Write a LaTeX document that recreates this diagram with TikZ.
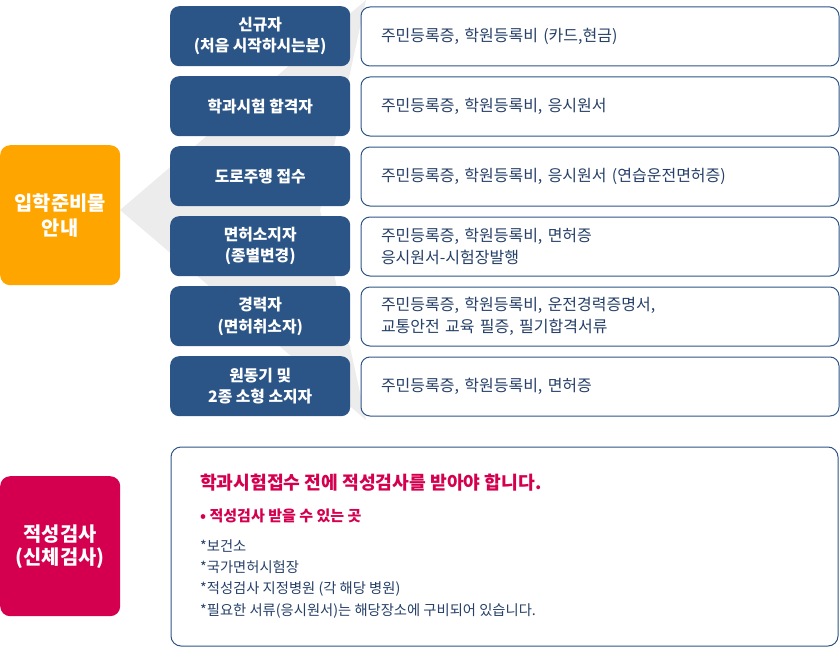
\documentclass[tikz,border=0pt]{standalone}
\usepackage{fontspec}
\setmainfont{Noto Sans CJK KR}
\definecolor{navy}{RGB}{44,85,135}
\definecolor{txtnavy}{RGB}{38,64,104}
\definecolor{orangeb}{RGB}{255,165,0}
\definecolor{crimsonb}{RGB}{212,0,79}
\definecolor{dartgray}{RGB}{236,236,236}
\begin{document}
\begin{tikzpicture}[x=1pt,y=-1pt,
  catbox/.style={fill=navy, rounded corners=9pt, minimum width=180pt, minimum height=60pt,
    inner sep=0pt, anchor=north west, text=white, align=center,
    font=\fontsize{15.8}{21.5}\selectfont\bfseries},
  docbox/.style={draw=navy, line width=1pt, fill=white, rounded corners=9pt,
    minimum height=59pt, text width=438pt, inner xsep=20pt, inner ysep=0pt,
    anchor=north west, align=left, text=txtnavy,
    font=\fontsize{16}{22}\selectfont},
  bigbox/.style={rounded corners=10pt, minimum width=120pt, minimum height=140pt,
    inner sep=0pt, anchor=north west, text=white, align=center},
  notetext/.style={anchor=west, inner sep=0pt, text=txtnavy, font=\fontsize{14.3}{16}\selectfont}
]
\useasboundingbox (0,0) rectangle (840,650);
% gray dart background
\fill[dartgray] (120,210) -- (366,0) -- (320,210) -- (366,420) -- cycle;

% left category boxes
\node[bigbox, fill=orangeb, font=\fontsize{19.8}{25}\selectfont\bfseries] (guide) at (0,145) {입학준비물\\안내};
\node[bigbox, fill=crimsonb, font=\fontsize{19.8}{23}\selectfont\bfseries] (aptitude) at (0,476) {적성검사\\(신체검사)};

% navy boxes
\node[catbox] (c1) at (170,6)   {신규자\\(처음 시작하시는분)};
\node[catbox] (c2) at (170,76)  {학과시험 합격자};
\node[catbox] (c3) at (170,146) {도로주행 접수};
\node[catbox] (c4) at (170,216) {면허소지자\\(종별변경)};
\node[catbox] (c5) at (170,286) {경력자\\(면허취소자)};
\node[catbox] (c6) at (170,356) {원동기 및\\2종 소형 소지자};

% document boxes
\node[docbox] (d1) at (360.5,6.5)   {주민등록증, 학원등록비 (카드,현금)};
\node[docbox] (d2) at (360.5,76.5)  {주민등록증, 학원등록비, 응시원서};
\node[docbox] (d3) at (360.5,146.5) {주민등록증, 학원등록비, 응시원서 (연습운전면허증)};
\node[docbox] (d4) at (360.5,216.5) {주민등록증, 학원등록비, 면허증\\응시원서-시험장발행};
\node[docbox] (d5) at (360.5,286.5) {주민등록증, 학원등록비, 운전경력증명서,\\교통안전 교육 필증, 필기합격서류};
\node[docbox] (d6) at (360.5,356.5) {주민등록증, 학원등록비, 면허증};

% aptitude note box
\node[draw=navy, line width=1pt, fill=white, rounded corners=10pt, minimum width=667pt,
      minimum height=199pt, inner sep=0pt, anchor=north west] (note) at (170.5,446.5) {};
\node[notetext, text=crimsonb, font=\fontsize{18.2}{20}\selectfont\bfseries] (n1) at (200,483)
  {학과시험접수 전에 적성검사를 받아야 합니다.};
\node[notetext, text=crimsonb, font=\fontsize{15}{17}\selectfont\bfseries] (n2) at (200,516)
  {• 적성검사 받을 수 있는 곳};
\node[notetext] (n3) at (200,546) {*보건소};
\node[notetext] (n4) at (200,567.5) {*국가면허시험장};
\node[notetext] (n5) at (200,589) {*적성검사 지정병원 (각 해당 병원)};
\node[notetext] (n6) at (200,610.5) {*필요한 서류(응시원서)는 해당장소에 구비되어 있습니다.};
\end{tikzpicture}
\end{document}
